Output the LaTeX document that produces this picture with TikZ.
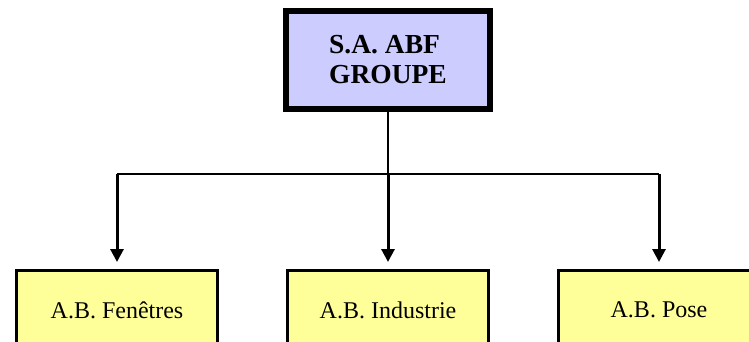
\documentclass[tikz,border=0pt]{standalone}
\usepackage{fontspec}
\setmainfont{Liberation Serif}
\usetikzlibrary{arrows.meta,positioning}

\begin{document}
\begin{tikzpicture}[x=1pt,y=-1pt,node distance=271pt,
    groupbox/.style={draw,line width=6.5pt,fill={rgb,255:red,204;green,204;blue,255},
      minimum width=204pt,minimum height=98pt,align=left,
      font=\fontsize{27.5}{30}\selectfont\bfseries},
    filiale/.style={draw,line width=3pt,fill={rgb,255:red,255;green,255;blue,153},
      minimum width=201pt,minimum height=79pt,
      font=\fontsize{24}{28}\selectfont},
    link/.style={line width=1.2pt},
    fleche/.style={line width=3pt,-{Triangle[width=13pt,length=13pt]},shorten >=7pt}]
  \useasboundingbox (0,0) rectangle (749,342);
  \node[groupbox]   (abf) at (388,60) {S.A. ABF\\ GROUPE};
  \node[filiale]    (industrie) at (388,310) {A.B. Industrie};
  \node[filiale]    (fenetres) [left of=industrie]  {A.B. Fen\^etres};
  \node[filiale]    (pose) [right of=industrie] {A.B. Pose};

  \coordinate (bar) at (388,174);
  \coordinate (barF) at (fenetres.north |- bar);
  \coordinate (barI) at (industrie.north |- bar);
  \coordinate (barP) at (pose.north |- bar);

  \draw[line width=2pt] (abf.south) -- (barI);
  \draw[link] (barF) -- (barP);
  \draw[fleche] (barF) -- (fenetres.north);
  \draw[fleche] (barI) -- (industrie.north);
  \draw[fleche] (barP) -- (pose.north);
\end{tikzpicture}
\end{document}
